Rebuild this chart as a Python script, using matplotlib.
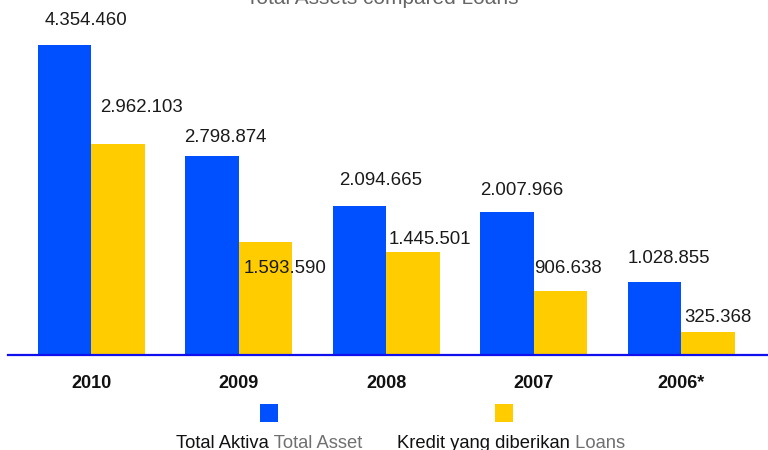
import matplotlib
matplotlib.use("Agg")
import matplotlib.pyplot as plt
from matplotlib.patches import Rectangle
import numpy as np

plt.rcParams['font.family'] = ['Liberation Sans', 'DejaVu Sans']

categories = ["2010", "2009", "2008", "2007", "2006*"]
total_assets = [4354460, 2798874, 2094665, 2007966, 1028855]
loans = [2962103, 1593590, 1445501, 906638, 325368]
asset_labels = ["4.354.460", "2.798.874", "2.094.665", "2.007.966", "1.028.855"]
loan_labels = ["2.962.103", "1.593.590", "1.445.501", "906.638", "325.368"]

title = "Total Assets compared Loans"
legend_main = ["Total Aktiva", "Kredit yang diberikan"]
legend_sub = ["Total Asset", "Loans"]

BLUE = "#0050FF"
YELLOW = "#FFCC00"
LINE = "#1010EE"

W, H = 768, 450
fig = plt.figure(figsize=(W / 100, H / 100), dpi=100)
ax = fig.add_axes([8 / W, (H - 355) / H, 760 / W, 355 / H])

x = np.arange(len(categories))
bw = 0.363
b1 = ax.bar(x - bw / 2, total_assets, bw, color=BLUE)
b2 = ax.bar(x + bw / 2, loans, bw, color=YELLOW)

ax.set_xlim(-0.5665, 4.59)
ax.set_ylim(0, 4994500)

# label offsets (px) relative to top-centre of bar
asset_off = [(21, 25), (13, 19), (21.5, 26), (14.5, 22), (15, 23)]
loan_off = [(23, 37), (19.5, -27), (17, 13), (7.5, 22), (10, 14)]
for bars, labels, offs in ((b1, asset_labels, asset_off), (b2, loan_labels, loan_off)):
    for rect, lab, (dx, dy) in zip(bars, labels, offs):
        cx = rect.get_x() + rect.get_width() / 2
        ax.annotate(lab, xy=(cx, rect.get_height()), xytext=(dx * 0.72, dy * 0.72),
                    textcoords="offset points", ha="center", va="center",
                    fontsize=13.4, color="#1a1a1a")

ax.set_xticks(x)
ax.set_xticklabels(categories, fontweight="bold", fontsize=13, color="#111111")
ax.tick_params(axis="x", length=0, pad=14.5)
ax.set_yticks([])
for s in ("top", "right", "left"):
    ax.spines[s].set_visible(False)
ax.spines["bottom"].set_color(LINE)
ax.spines["bottom"].set_linewidth(1.6)

# title (partly cut off at top, as in the reference)
fig.text(382 / W, (H - 4) / H, title, ha="center", va="baseline",
         fontsize=15, color="#666666")

# legend
sq = 18
for cxp, col in ((269, BLUE), (504, YELLOW)):
    fig.add_artist(Rectangle(((cxp - sq / 2) / W, (H - 422) / H), sq / W, sq / H,
                             transform=fig.transFigure, color=col, lw=0))

for lx, main, sub in ((176, legend_main[0], legend_sub[0]), (397, legend_main[1], legend_sub[1])):
    t1 = fig.text(lx / W, (H - 448) / H, main, ha="left", va="baseline",
                  fontsize=13.2, color="#111111")
    ann = fig.text(0, 0, " " + sub, fontsize=13.2, color="#707070", ha="left", va="baseline")
    fig.canvas.draw()
    bb = t1.get_window_extent()
    ann.set_position((bb.x1 / W, (H - 448) / H))

fig.savefig("out.png", dpi=100)
